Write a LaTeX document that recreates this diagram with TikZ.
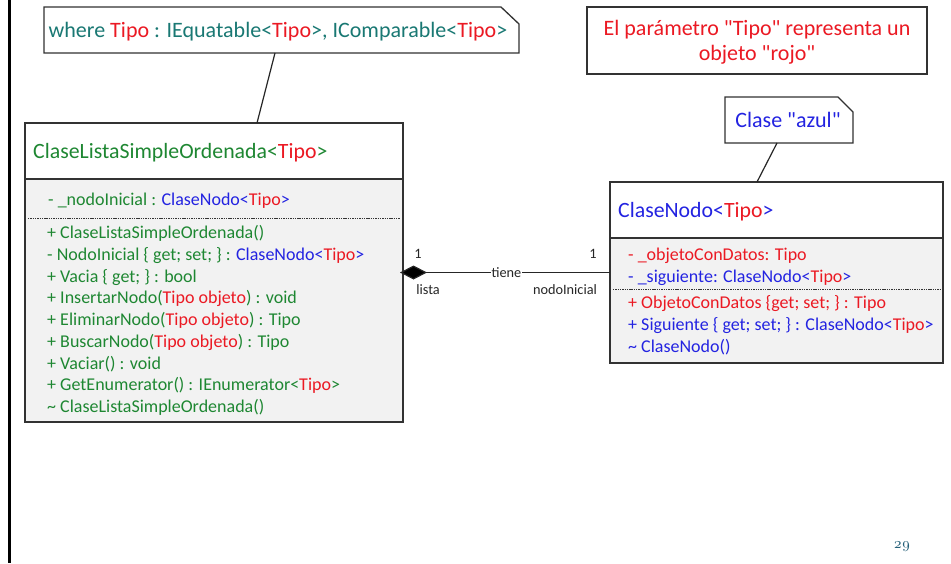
\documentclass[tikz,border=0pt]{standalone}
\usepackage{fontspec}
\setmainfont{Carlito}[Ligatures=TeXOff]
\newfontfamily\pagefont[Numbers=OldStyle]{lmroman10-regular.otf}
\usetikzlibrary{arrows.meta}
\definecolor{cgreen}{RGB}{30,135,50}
\definecolor{cteal}{RGB}{25,120,115}
\definecolor{cred}{RGB}{235,25,35}
\definecolor{cblue}{RGB}{35,35,225}
\definecolor{cpage}{RGB}{35,95,120}
\definecolor{cbody}{RGB}{242,242,242}
\definecolor{cedge}{RGB}{50,50,50}
\newcommand\tred[1]{\textcolor{cred}{#1}}
\newcommand\tblue[1]{\textcolor{cblue}{#1}}
\newcommand\tgreen[1]{\textcolor{cgreen}{#1}}
\begin{document}
\begin{tikzpicture}[x=1pt,y=-1pt,
  boxline/.style={draw=cedge, line width=1.3pt, inner sep=0pt, outer sep=0pt, anchor=north west},
  boxarea/.style={inner sep=0pt, outer sep=0pt, anchor=north west},
  sepline/.style={draw=cedge, line width=1.1pt},
  dotsep/.style={draw=black!80, line width=0.9pt, dash pattern=on 1.4pt off 0.9pt},
  conn/.style={draw=black!85, line width=1.2pt},
  hdr/.style={anchor=base west, inner sep=0pt, font=\fontsize{21.8}{24}\selectfont},
  mem/.style={anchor=base west, inner sep=0pt, font=\fontsize{18}{21}\selectfont},
  notetxt/.style={anchor=base, inner sep=0pt, font=\fontsize{22}{24}\selectfont},
  lbl/.style={inner sep=1pt, font=\fontsize{14.3}{16}\selectfont, text=black!85}
]
\useasboundingbox (0,0) rectangle (951,563);
\fill[white] (0,0) rectangle (951,563);
\fill[black] (7.5,0) rectangle (10.5,563);

% ---------- note: where clause ----------
\node[boxarea, minimum width=475pt, minimum height=46pt] (note1) at (44,7) {};
\draw[draw=cedge, line width=1.3pt, fill=white]
  (note1.south west) -- (note1.north west) -- ([xshift=-18pt]note1.north east)
  -- ([yshift=-17pt]note1.north east) -- (note1.south east) -- cycle;
\node[notetxt, text=cteal] (note1t) at (278,37)
  {where \tred{Tipo} : IEquatable<\tred{Tipo}>, IComparable<\tred{Tipo}>};

% ---------- red note ----------
\node[boxline, fill=white, minimum width=340pt, minimum height=67pt] (rednote) at (587,7) {};
\node[notetxt, text=cred] (red1) at (757,35) {El parámetro "Tipo" representa un};
\node[notetxt, text=cred] (red2) at (757,60) {objeto "rojo"};

% ---------- note: azul ----------
\node[boxarea, minimum width=128pt, minimum height=46pt] (note2) at (725,97) {};
\draw[draw=cedge, line width=1.3pt, fill=white]
  (note2.south west) -- (note2.north west) -- ([xshift=-15pt]note2.north east)
  -- ([yshift=-15pt]note2.north east) -- (note2.south east) -- cycle;
\node[notetxt, text=cblue] (note2t) at (788,127) {Clase "azul"};

% ---------- ClaseListaSimpleOrdenada ----------
\node[boxarea, fill=white, minimum width=378pt, minimum height=56pt] (listahead) at (25,123) {};
\node[boxarea, fill=cbody, minimum width=378pt, minimum height=243pt] (listabody) at (25,179) {};
\node[boxline, minimum width=378pt, minimum height=299pt] (lista) at (25,123) {};
\draw[sepline] (listabody.north west) -- (listabody.north east);
\draw[dotsep] (28,218) -- (400,218);
\node[hdr, text=cgreen] (lh) at (33,158) {ClaseListaSimpleOrdenada<\tred{Tipo}>};
\node[mem, text=cgreen] (l1) at (48,205.5) {- \_nodoInicial : \tblue{ClaseNodo<}\tred{Tipo}\tblue{>}};
\node[mem, text=cgreen] (l2) at (47,238.5) {+ ClaseListaSimpleOrdenada()};
\node[mem, text=cgreen] (l3) at (47,260.25) {- NodoInicial \{ get; set; \} : \tblue{ClaseNodo<}\tred{Tipo}\tblue{>}};
\node[mem, text=cgreen] (l4) at (47,282) {+ Vacia \{ get; \} : bool};
\node[mem, text=cgreen] (l5) at (47,303.75) {+ InsertarNodo(\tred{Tipo objeto}) : void};
\node[mem, text=cgreen] (l6) at (47,325.5) {+ EliminarNodo(\tred{Tipo objeto}) : Tipo};
\node[mem, text=cgreen] (l7) at (47,347.25) {+ BuscarNodo(\tred{Tipo objeto}) : Tipo};
\node[mem, text=cgreen] (l8) at (47,369) {+ Vaciar() : void};
\node[mem, text=cgreen] (l9) at (47,390.75) {+ GetEnumerator() : IEnumerator<\tred{Tipo}>};
\node[mem, text=cgreen] (l10) at (47,412.5) {\textasciitilde{} ClaseListaSimpleOrdenada()};

% ---------- ClaseNodo ----------
\node[boxarea, fill=white, minimum width=333pt, minimum height=56pt] (nodohead) at (610,182) {};
\node[boxarea, fill=cbody, minimum width=333pt, minimum height=125pt] (nodobody) at (610,238) {};
\node[boxline, minimum width=333pt, minimum height=181pt] (nodo) at (610,182) {};
\draw[sepline] (nodobody.north west) -- (nodobody.north east);
\draw[dotsep] (613,289) -- (940,289);
\node[hdr, text=cblue] (nh) at (618,217) {ClaseNodo<\tred{Tipo}>};
\node[mem, text=cred] (n1) at (628,260.5) {- \_objetoConDatos: Tipo};
\node[mem, text=cblue] (n2) at (628,282.5) {- \_siguiente: ClaseNodo<\tred{Tipo}>};
\node[mem, text=cred] (n3) at (628,308.5) {+ ObjetoConDatos \{get; set; \} : Tipo};
\node[mem, text=cblue] (n4) at (628,330.5) {+ Siguiente \{ get; set; \} : ClaseNodo<\tred{Tipo}>};
\node[mem, text=cblue] (n5) at (628,352.5) {\textasciitilde{} ClaseNodo()};

% ---------- connectors ----------
\draw[conn] ([xshift=231pt]note1.south west) -- ([xshift=232pt]lista.north west);
\draw[conn] ([xshift=52pt]note2.south west) -- ([xshift=147pt]nodo.north west);
\draw[conn, {Diamond[length=27pt,width=14pt,fill=black]}-, shorten <=-3pt] (lista.east) -- (nodo.west)
  node[midway, fill=white, lbl, inner sep=0.5pt] (tiene) {tiene};
\node[lbl] (m1) at (418,254) {1};
\node[lbl] (m2) at (593,254) {1};
\node[lbl] (r1) at (428,290) {lista};
\node[lbl] (r2) at (565,290) {nodoInicial};

% ---------- page number ----------
\node[inner sep=0pt, text=cpage, font=\pagefont\fontsize{15}{17}\selectfont] (pg) at (902,547) {29};
\end{tikzpicture}
\end{document}
